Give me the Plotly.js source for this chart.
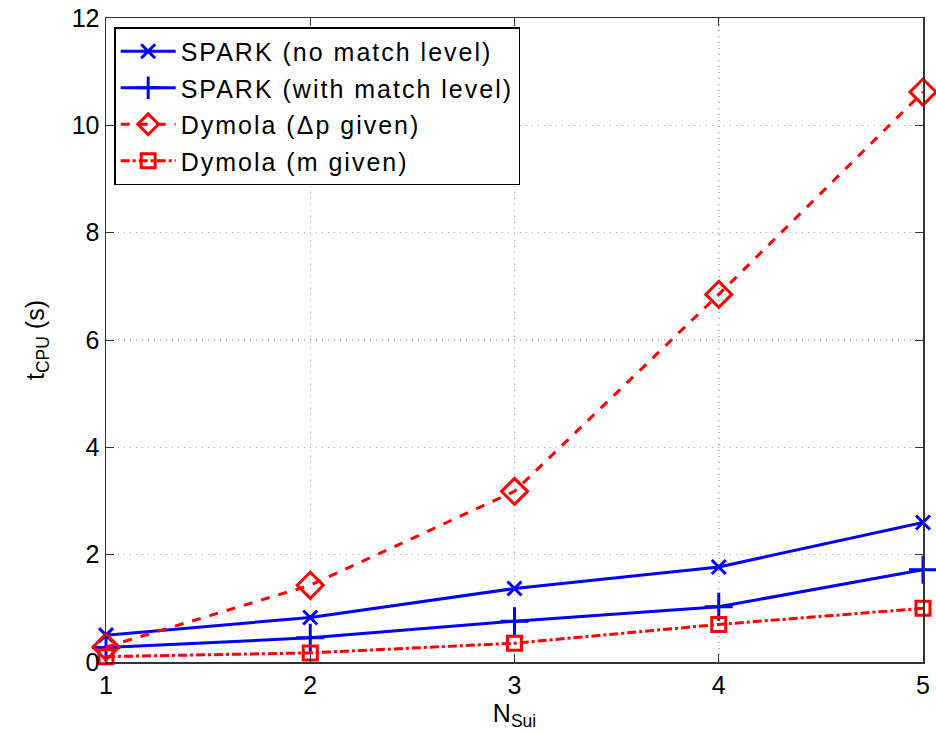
<!DOCTYPE html>
<html>
<head>
<meta charset="utf-8">
<script src="https://cdn.plot.ly/plotly-3.0.1.min.js"></script>
<style>
html,body{margin:0;padding:0;background:#fff;}
#chart{width:936px;height:734px;}
.legendtext{letter-spacing:2px;}
</style>
</head>
<body>
<div id="chart"></div>
<script>
const nSui = [1, 2, 3, 4, 5];
const sparkNoMatch = [0.50, 0.83, 1.37, 1.77, 2.60];
const sparkWithMatch = [0.27, 0.45, 0.76, 1.03, 1.72];
const dymolaDp = [0.28, 1.43, 3.18, 6.85, 10.62];
const dymolaM = [0.10, 0.17, 0.35, 0.70, 1.00];
const xTicks = [1, 2, 3, 4, 5];
const yTicks = [0, 2, 4, 6, 8, 10, 12];

const blue = 'rgb(0,0,255)';
const red = 'rgb(255,0,0)';

const traces = [
  {x: nSui, y: sparkNoMatch, name: 'SPARK (no match level)', mode: 'lines+markers', legendgroup: 'a', cliponaxis: false,
   line: {color: blue, width: 3},
   marker: {symbol: 'x-thin', size: 14, color: blue, line: {color: blue, width: 3}}},
  {x: nSui, y: sparkWithMatch, name: 'SPARK (with match level)', mode: 'lines+markers', legendgroup: 'b', cliponaxis: false,
   line: {color: blue, width: 3},
   marker: {symbol: 'cross-thin', size: 20, color: blue, line: {color: blue, width: 3}}},
  {x: nSui, y: dymolaDp, name: 'Dymola (Δp given)', mode: 'lines+markers', legendgroup: 'c', cliponaxis: false,
   line: {color: red, width: 3, dash: 'dash'},
   marker: {symbol: 'diamond-open', size: 20, color: red, line: {color: red, width: 3}}},
  {x: nSui, y: dymolaM, name: 'Dymola (m given)', mode: 'lines+markers', legendgroup: 'd', cliponaxis: false,
   line: {color: red, width: 3, dash: 'dashdot'},
   marker: {symbol: 'square-open', size: 14, color: red, line: {color: red, width: 3}}}
];

const family = 'Liberation Sans, Arial, Helvetica, sans-serif';
const font = {family: family, size: 25, color: '#000'};

const layout = {
  width: 936, height: 734,
  margin: {l: 106, r: 13, t: 18, b: 72},
  paper_bgcolor: '#fff', plot_bgcolor: '#fff',
  font: font,
  showlegend: true,
  legend: {x: 0.01, y: 0.986, xanchor: 'left', yanchor: 'top',
    bgcolor: '#fff', bordercolor: '#000', borderwidth: 1.5,
    font: {family: family, size: 25, color: '#000'},
    itemwidth: 55, traceorder: 'grouped', tracegroupgap: 1},
  xaxis: {
    range: [1, 5], tickvals: xTicks, ticktext: xTicks.map(String),
    ticks: 'inside', ticklen: 8, tickcolor: '#333', tickwidth: 1,
    showline: true, linecolor: '#333', linewidth: 1.5, mirror: 'ticks',
    showgrid: true, gridcolor: '#b0b0b0', griddash: '1px,5px', gridwidth: 1.5,
    zeroline: false, tickfont: font,
    title: {text: 'N<sub>Sui</sub>', font: font, standoff: 2}
  },
  yaxis: {
    range: [0, 12], tickvals: yTicks, ticktext: yTicks.map(String),
    ticks: 'inside', ticklen: 8, tickcolor: '#333', tickwidth: 1,
    showline: true, linecolor: '#333', linewidth: 1.5, mirror: 'ticks',
    showgrid: true, gridcolor: '#b0b0b0', griddash: '1px,5px', gridwidth: 1.5,
    zeroline: false, tickfont: font,
    title: {text: 't<sub>CPU</sub> (s)', font: font, standoff: 20}
  }
};

Plotly.newPlot('chart', traces, layout, {displayModeBar: false, staticPlot: true});
</script>
</body>
</html>
